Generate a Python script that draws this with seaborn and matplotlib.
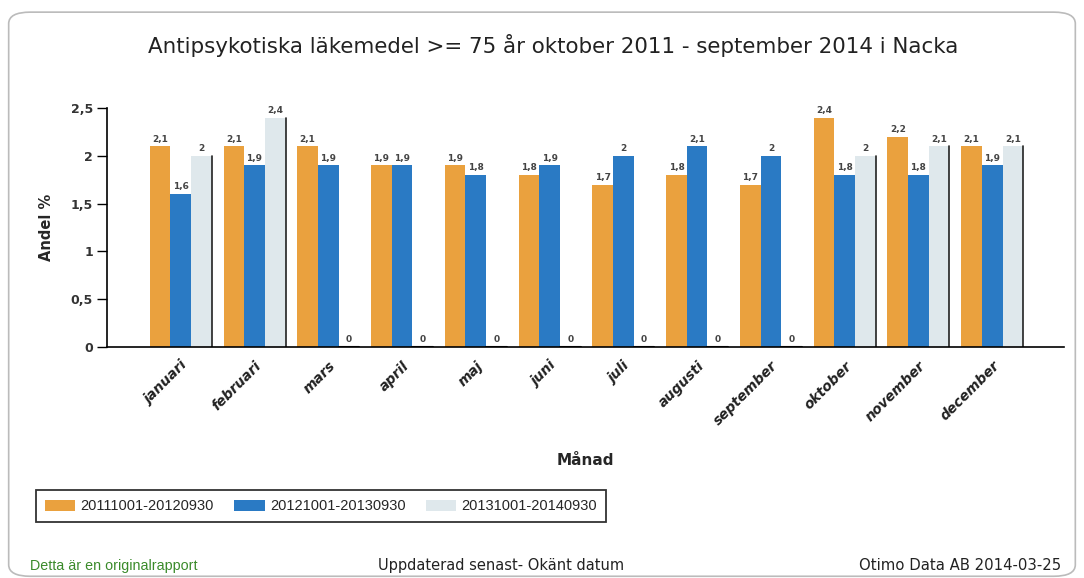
import numpy as np
import pandas as pd
import matplotlib
matplotlib.use("Agg")
import matplotlib.pyplot as plt
import seaborn as sns
from matplotlib.patches import FancyBboxPatch


months = ['januari', 'februari', 'mars', 'april', 'maj', 'juni',
          'juli', 'augusti', 'september', 'oktober', 'november', 'december']
periods = ['20111001-20120930', '20121001-20130930', '20131001-20140930']

p2011 = [2.1, 2.1, 2.1, 1.9, 1.9, 1.8, 1.7, 1.8, 1.7, 2.4, 2.2, 2.1]
p2012 = [1.6, 1.9, 1.9, 1.9, 1.8, 1.9, 2.0, 2.1, 2.0, 1.8, 1.8, 1.9]
p2013 = [2.0, 2.4, 0, 0, 0, 0, 0, 0, 0, 2.0, 2.1, 2.1]

colors = ['#eaa13e', '#2a7ac4', '#dfe8ec']

yticks = [0, 0.5, 1, 1.5, 2, 2.5]
ytick_labels = ['0', '0,5', '1', '1,5', '2', '2,5']

df = pd.DataFrame({
    'Månad': months * 3,
    'Andel': p2011 + p2012 + p2013,
    'Period': [periods[0]] * 12 + [periods[1]] * 12 + [periods[2]] * 12,
})

sns.set_style('white')
plt.rcParams['font.family'] = ['DejaVu Sans']

fig = plt.figure(figsize=(10.84, 5.78), dpi=100)
ax = fig.add_axes([0.0987, 0.3997, 0.8833, 0.4133])

sns.barplot(data=df, x='Månad', y='Andel', hue='Period', order=months,
            hue_order=periods, palette=colors, saturation=1, width=0.84,
            linewidth=0, ax=ax, legend=True)

# dark edge on right side of the pale bars, like the original shading
for bar in ax.containers[2]:
    x0 = bar.get_x() + bar.get_width()
    h = bar.get_height()
    ax.plot([x0, x0], [0, h], color='#222222', lw=1.2)
    if h == 0:
        ax.plot([bar.get_x(), x0], [0, 0], color='#111111', lw=1.5)

def fmt(v):
    s = ('%.1f' % v).rstrip('0').rstrip('.')
    return s.replace('.', ',')

for cont in ax.containers:
    ax.bar_label(cont, labels=[fmt(b.get_height()) for b in cont],
                 padding=2, fontsize=6.5, fontweight='bold', color='#444444')

ax.set_xlim(-1.0, 11.98)
ax.set_ylim(0, 2.5)
ax.set_yticks(yticks)
ax.set_yticklabels(ytick_labels, fontsize=9, fontweight='bold', color='#333333')
ax.set_xticks(range(12))
ax.set_xticklabels(months, rotation=45, ha='right', rotation_mode='anchor',
                   fontsize=10, fontweight='bold', fontstyle='italic',
                   color='#222222')
ax.tick_params(axis='y', left=True, length=7, width=1, color='black', pad=3)
ax.tick_params(axis='x', bottom=False, pad=5)
ax.set_xlabel('Månad', fontsize=11, fontweight='bold', labelpad=18)
ax.set_ylabel('Andel %', fontsize=10.5, fontweight='bold', labelpad=12)

for side in ['top', 'right']:
    ax.spines[side].set_visible(False)
for side in ['left', 'bottom']:
    ax.spines[side].set_color('black')
    ax.spines[side].set_linewidth(1.2)

handles, labels = ax.get_legend_handles_labels()
ax.get_legend().remove()
leg = fig.legend(handles, labels, loc='lower left', bbox_to_anchor=(0.033, 0.097),
                 ncol=3, frameon=True, fancybox=False, borderaxespad=0,
                 prop={'family': 'Liberation Sans', 'size': 10.5},
                 handlelength=2.1, handleheight=0.8, handletextpad=0.35,
                 columnspacing=1.4, borderpad=0.6)
leg.get_frame().set_edgecolor('black')
leg.get_frame().set_linewidth(1.3)

fig.text(0.51, 0.922, 'Antipsykotiska läkemedel >= 75 år oktober 2011 - september 2014 i Nacka',
         ha='center', va='center', fontsize=15.4, color='#222222')

fig.text(0.028, 0.021, 'Detta är en originalrapport', fontsize=10.3,
         family='Liberation Sans', color='#3a8a2a', ha='left', va='center')
fig.text(0.462, 0.022, 'Uppdaterad senast- Okänt datum', fontsize=10.5,
         color='#222222', ha='center', va='center')
fig.text(0.979, 0.022, 'Otimo Data AB 2014-03-25', fontsize=10.7,
         color='#222222', ha='right', va='center')

border = FancyBboxPatch((0.008, 0.003), 0.984, 0.976, transform=fig.transFigure,
                        boxstyle='round,pad=0,rounding_size=0.02',
                        fill=False, edgecolor='#bbbbbb', linewidth=1.2)
fig.patches.append(border)

fig.savefig('out.png', dpi=100)
